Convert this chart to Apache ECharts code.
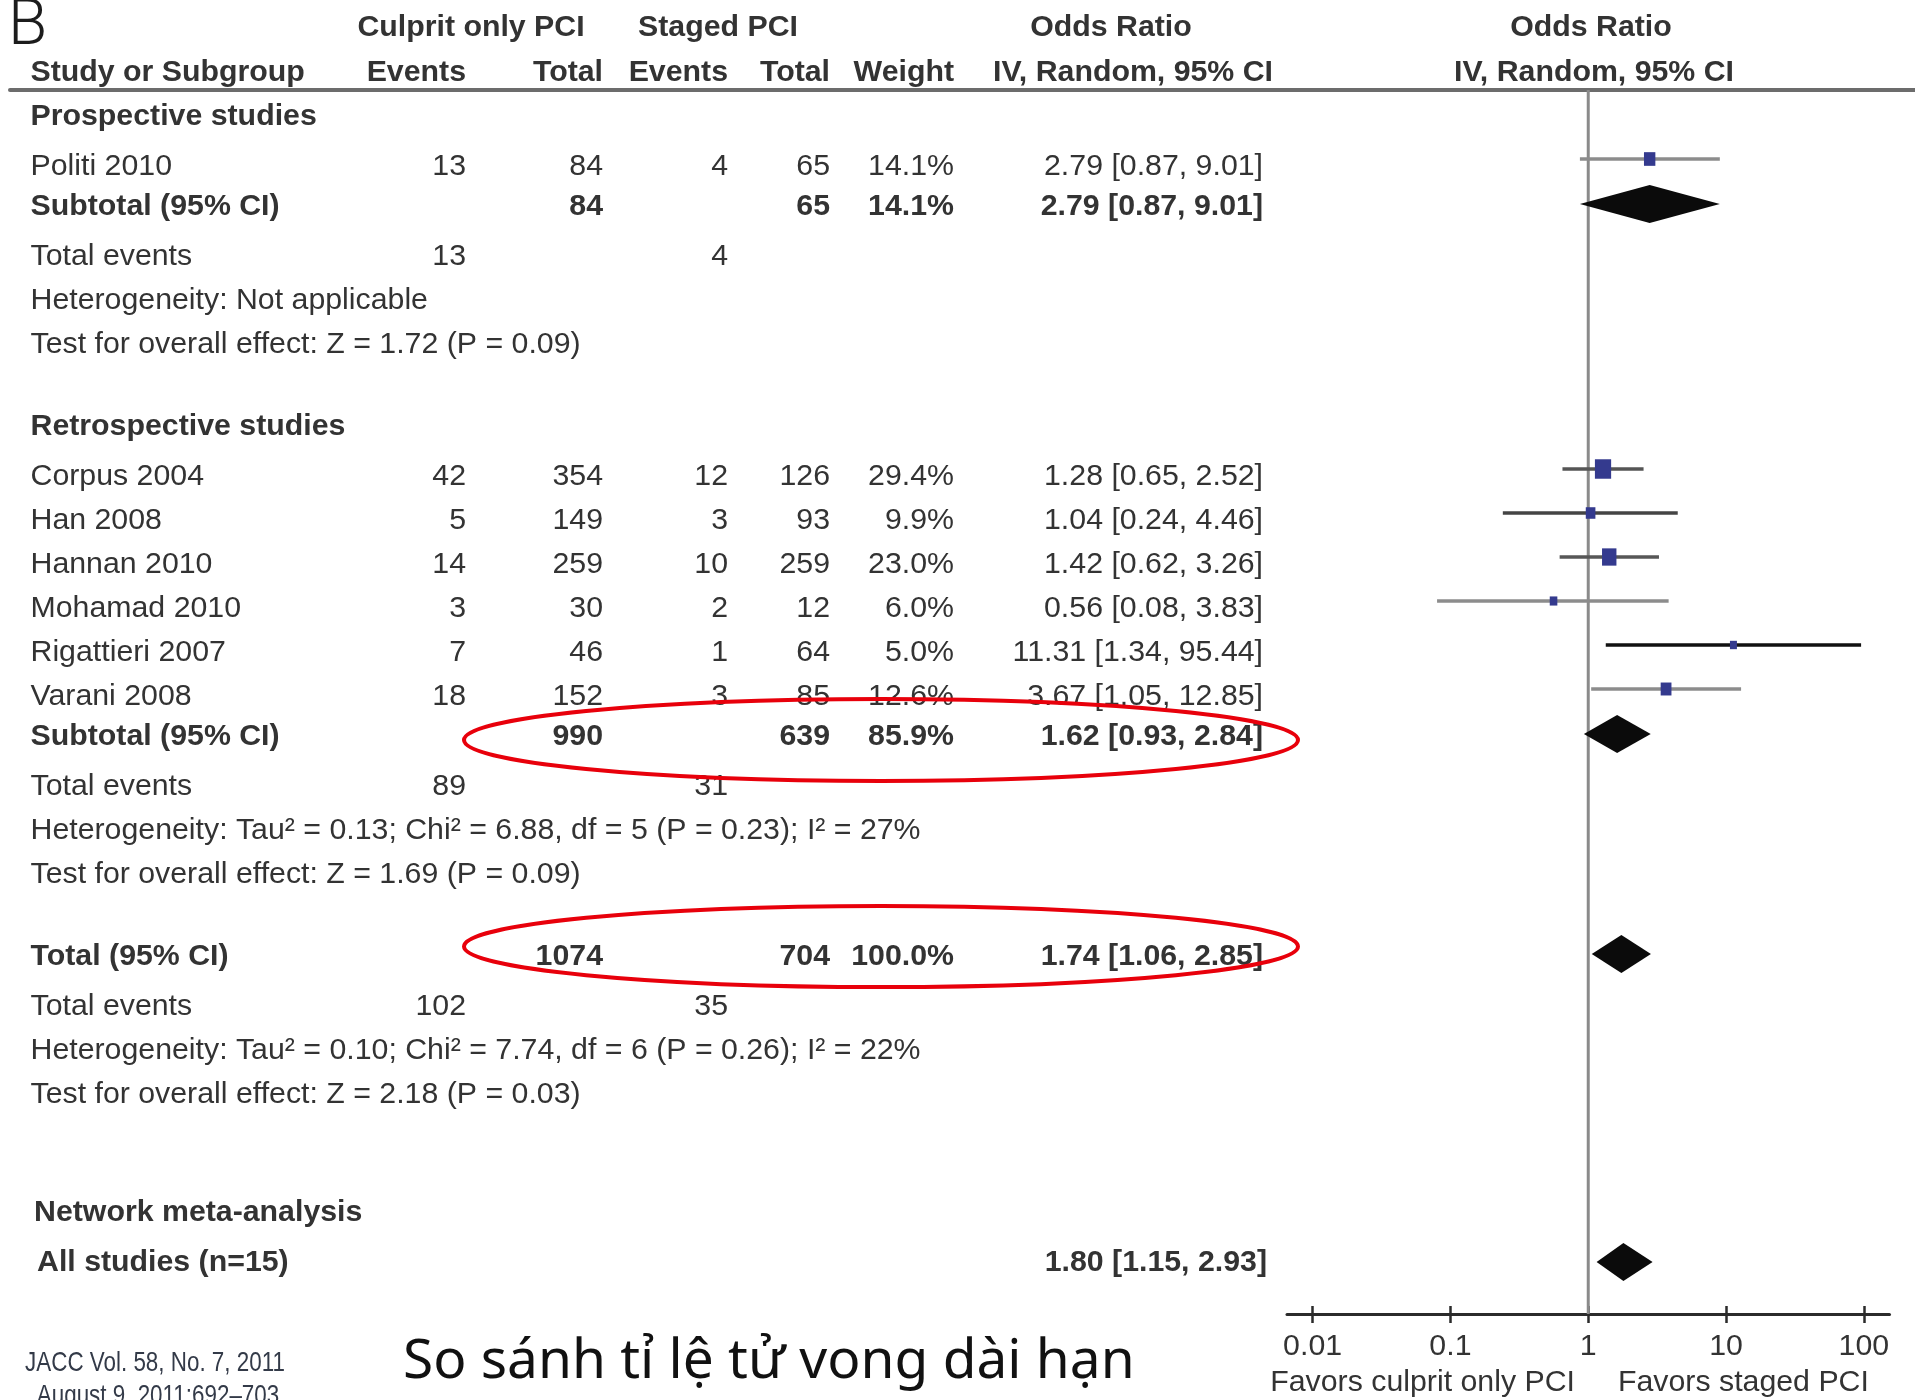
<!DOCTYPE html>
<html>
<head>
<meta charset="utf-8">
<title>Forest plot – culprit only vs staged PCI</title>
<script src="https://cdn.jsdelivr.net/npm/echarts@6/dist/echarts.min.js"></script>
<style>
  html, body { margin: 0; padding: 0; background: #ffffff; }
  #chart { width: 1915px; height: 1400px; }
</style>
</head>
<body>
<div id="chart"></div>
<script>
// ---------------- study data ----------------
const studyNames    = ['Politi 2010', 'Corpus 2004', 'Han 2008', 'Hannan 2010', 'Mohamad 2010', 'Rigattieri 2007', 'Varani 2008'];
const studyGroup    = [0, 1, 1, 1, 1, 1, 1];
const culpritEvents = [13, 42, 5, 14, 3, 7, 18];
const culpritTotal  = [84, 354, 149, 259, 30, 46, 152];
const stagedEvents  = [4, 12, 3, 10, 2, 1, 3];
const stagedTotal   = [65, 126, 93, 259, 12, 64, 85];
const studyWeight   = [14.1, 29.4, 9.9, 23.0, 6.0, 5.0, 12.6];
const studyOR       = [2.79, 1.28, 1.04, 1.42, 0.56, 11.31, 3.67];
const studyLow      = [0.87, 0.65, 0.24, 0.62, 0.08, 1.34, 1.05];
const studyHigh     = [9.01, 2.52, 4.46, 3.26, 3.83, 95.44, 12.85];

// ---------------- subgroup data ----------------
const groupNames         = ['Prospective studies', 'Retrospective studies'];
const groupCulpritTotal  = [84, 990];
const groupStagedTotal   = [65, 639];
const groupWeight        = [14.1, 85.9];
const groupOR            = [2.79, 1.62];
const groupLow           = [0.87, 0.93];
const groupHigh          = [9.01, 2.84];
const groupCulpritEvents = [13, 89];
const groupStagedEvents  = [4, 31];
const groupHeterogeneity = [
  'Heterogeneity: Not applicable',
  'Heterogeneity: Tau\u00b2 = 0.13; Chi\u00b2 = 6.88, df = 5 (P = 0.23); I\u00b2 = 27%'
];
const groupEffectTest = [
  'Test for overall effect: Z = 1.72 (P = 0.09)',
  'Test for overall effect: Z = 1.69 (P = 0.09)'
];

// ---------------- overall and network results ----------------
const overallLabel         = 'Total (95% CI)';
const overallTotals        = [1074, 704];          // culprit only, staged
const overallWeight        = [100.0];
const overallResult        = [1.74, 1.06, 2.85];   // OR, lower, upper
const overallEvents        = [102, 35];
const overallHeterogeneity = 'Heterogeneity: Tau\u00b2 = 0.10; Chi\u00b2 = 7.74, df = 6 (P = 0.26); I\u00b2 = 22%';
const overallEffectTest    = 'Test for overall effect: Z = 2.18 (P = 0.03)';

const networkHeading = 'Network meta-analysis';
const networkLabel   = 'All studies (n=15)';
const networkResult  = [1.80, 1.15, 2.93];         // OR, lower, upper

// ---------------- axis ----------------
const axisTicks      = [0.01, 0.1, 1, 10, 100];
const axisTickLabels = ['0.01', '0.1', '1', '10', '100'];
const favourLabels   = ['Favors culprit only PCI', 'Favors staged PCI'];

// ---------------- layout & style ----------------
const FONT_FAMILY = '"Liberation Sans", Arial, Helvetica, sans-serif';
const FONT_SIZE = 30.3;
const TEXT_COLOR = '#333333';
const TOP = 90;                     // header rule
const BOTTOM = 86;                  // space under the odds-ratio axis
const HEIGHT = 1400 - TOP - BOTTOM; // y axis runs in pixel units of the table body
const COL = { name: 30.5, cEv: 466, cTot: 603, sEv: 728, sTot: 830, wt: 954, ci: 1263 };
const GAP = { first: 50, row: 44, subtotal: 40, section: 82, network: 118 };
const STUDY_RAISE = 7;              // study bars sit a little above the text centre
const DIAMOND_RAISE = 2;
const DIAMOND_HALF = 19;
const AXIS_MIN = 0.00652, AXIS_MAX = 153.4;
const ciColors = ['#8c8c8c', '#555555', '#444444', '#575757', '#8c8c8c', '#111111', '#8c8c8c'];
const SQUARE_COLOR = '#343a8e';

const fmtCI = (r) => `${r[0].toFixed(2)} [${r[1].toFixed(2)}, ${r[2].toFixed(2)}]`;
const fmtPct = (w) => `${w.toFixed(1)}%`;

// ---------------- table rows ----------------
const cells = [];     // text cells: {x, pos, text, align, bold}
const ciBars = [];    // [low, high, pos, studyIndex]
const squares = [];   // [or, pos, weight]
const diamonds = [];  // [low, high, or, pos]
let pos = 26;

function cell(x, text, align, bold, at) {
  cells.push({ x, pos: at === undefined ? pos : at, text: String(text), align: align || 'left', bold: !!bold });
}

// header lines (above the rule)
const H1 = -63, H2 = -18;
cell(471, 'Culprit only PCI', 'center', true, H1);
cell(718, 'Staged PCI', 'center', true, H1);
cell(1111, 'Odds Ratio', 'center', true, H1);
cell(1591, 'Odds Ratio', 'center', true, H1);
cell(COL.name, 'Study or Subgroup', 'left', true, H2);
cell(COL.cEv, 'Events', 'right', true, H2);
cell(COL.cTot, 'Total', 'right', true, H2);
cell(COL.sEv, 'Events', 'right', true, H2);
cell(COL.sTot, 'Total', 'right', true, H2);
cell(COL.wt, 'Weight', 'right', true, H2);
cell(1133, 'IV, Random, 95% CI', 'center', true, H2);
cell(1594, 'IV, Random, 95% CI', 'center', true, H2);

groupNames.forEach((g, gi) => {
  if (gi > 0) pos += GAP.section;
  cell(COL.name, g, 'left', true);
  let first = true;
  studyNames.forEach((name, i) => {
    if (studyGroup[i] !== gi) return;
    pos += first ? GAP.first : GAP.row;
    first = false;
    cell(COL.name, name);
    cell(COL.cEv, culpritEvents[i], 'right');
    cell(COL.cTot, culpritTotal[i], 'right');
    cell(COL.sEv, stagedEvents[i], 'right');
    cell(COL.sTot, stagedTotal[i], 'right');
    cell(COL.wt, fmtPct(studyWeight[i]), 'right');
    cell(COL.ci, fmtCI([studyOR[i], studyLow[i], studyHigh[i]]), 'right');
    ciBars.push([studyLow[i], studyHigh[i], pos - STUDY_RAISE, i]);
    squares.push([studyOR[i], pos - STUDY_RAISE, studyWeight[i]]);
  });
  pos += GAP.subtotal;
  cell(COL.name, 'Subtotal (95% CI)', 'left', true);
  cell(COL.cTot, groupCulpritTotal[gi], 'right', true);
  cell(COL.sTot, groupStagedTotal[gi], 'right', true);
  cell(COL.wt, fmtPct(groupWeight[gi]), 'right', true);
  cell(COL.ci, fmtCI([groupOR[gi], groupLow[gi], groupHigh[gi]]), 'right', true);
  diamonds.push([groupLow[gi], groupHigh[gi], groupOR[gi], pos - DIAMOND_RAISE]);
  pos += GAP.first;
  cell(COL.name, 'Total events');
  cell(COL.cEv, groupCulpritEvents[gi], 'right');
  cell(COL.sEv, groupStagedEvents[gi], 'right');
  pos += GAP.row;
  cell(COL.name, groupHeterogeneity[gi]);
  pos += GAP.row;
  cell(COL.name, groupEffectTest[gi]);
});

pos += GAP.section;
cell(COL.name, overallLabel, 'left', true);
cell(COL.cTot, overallTotals[0], 'right', true);
cell(COL.sTot, overallTotals[1], 'right', true);
cell(COL.wt, fmtPct(overallWeight[0]), 'right', true);
cell(COL.ci, fmtCI(overallResult), 'right', true);
diamonds.push([overallResult[1], overallResult[2], overallResult[0], pos - DIAMOND_RAISE]);
pos += GAP.first;
cell(COL.name, 'Total events');
cell(COL.cEv, overallEvents[0], 'right');
cell(COL.sEv, overallEvents[1], 'right');
pos += GAP.row;
cell(COL.name, overallHeterogeneity);
pos += GAP.row;
cell(COL.name, overallEffectTest);

pos += GAP.network;
cell(34, networkHeading, 'left', true);
pos += GAP.first;
cell(37, networkLabel, 'left', true);
cell(COL.ci + 4, fmtCI(networkResult), 'right', true);
diamonds.push([networkResult[1], networkResult[2], networkResult[0], pos]);

// ---------------- chart ----------------
const chart = echarts.init(document.getElementById('chart'), null, { renderer: 'canvas' });

const logAxisBase = {
  gridIndex: 1, type: 'log', logBase: 10, min: AXIS_MIN, max: AXIS_MAX,
  position: 'bottom', splitLine: { show: false }, axisPointer: { show: false }
};

const option = {
  animation: false,
  backgroundColor: '#ffffff',
  grid: [
    { left: 10, right: 0, top: TOP, bottom: BOTTOM, containLabel: false, outerBoundsMode: 'none' },
    { left: 1287, right: 25.5, top: TOP, bottom: BOTTOM, containLabel: false, outerBoundsMode: 'none' }
  ],
  xAxis: [
    {
      gridIndex: 0, type: 'value', min: 10, max: 1915, position: 'top',
      axisLine: { show: true, onZero: false, lineStyle: { color: '#6c6c6c', width: 4 } },
      axisTick: { show: false }, axisLabel: { show: false }, splitLine: { show: false }
    },
    Object.assign({}, logAxisBase, {
      axisLine: { show: true, onZero: false, lineStyle: { color: '#2b2b2b', width: 3 } },
      axisTick: { show: true, customValues: axisTicks, length: 9, lineStyle: { color: '#2b2b2b', width: 2.5 } },
      axisLabel: {
        show: true, customValues: axisTicks, margin: 18,
        fontSize: FONT_SIZE, fontFamily: FONT_FAMILY, color: TEXT_COLOR,
        formatter: (v) => {
          const k = axisTicks.findIndex(t => Math.abs(t - v) / t < 1e-6);
          return k >= 0 ? axisTickLabels[k] : '';
        }
      }
    }),
    Object.assign({}, logAxisBase, {
      axisLine: { show: false, onZero: false },
      axisTick: { show: true, inside: true, customValues: axisTicks, length: 8, lineStyle: { color: '#2b2b2b', width: 2.5 } },
      axisLabel: { show: false }
    })
  ],
  yAxis: [
    { gridIndex: 0, type: 'value', min: 0, max: HEIGHT, inverse: true, show: false },
    { gridIndex: 1, type: 'value', min: 0, max: HEIGHT, inverse: true, show: false }
  ],
  series: [
    // table text
    {
      type: 'custom', xAxisIndex: 0, yAxisIndex: 0, clip: false, silent: true, z: 5,
      data: cells.map((c, i) => [c.x, c.pos, i]),
      encode: { x: 0, y: 1 },
      renderItem: (params, api) => {
        const c = cells[api.value(2)];
        const p = api.coord([api.value(0), api.value(1)]);
        return {
          type: 'text', x: p[0], y: p[1] + 1,
          style: {
            text: c.text, fill: TEXT_COLOR,
            font: `${c.bold ? 'bold ' : ''}${FONT_SIZE}px ${FONT_FAMILY}`,
            align: c.align, verticalAlign: 'middle'
          }
        };
      }
    },
    // line of no effect (OR = 1)
    {
      type: 'custom', xAxisIndex: 1, yAxisIndex: 1, clip: false, silent: true, z: 1,
      data: [[1, 0, HEIGHT]],
      encode: { x: 0, y: [1, 2] },
      renderItem: (params, api) => {
        const a = api.coord([api.value(0), api.value(1)]);
        const b = api.coord([api.value(0), api.value(2)]);
        return { type: 'line', shape: { x1: a[0], y1: a[1], x2: b[0], y2: b[1] }, style: { stroke: '#8a8a8a', lineWidth: 3 } };
      }
    },
    // study confidence intervals
    {
      type: 'custom', xAxisIndex: 1, yAxisIndex: 1, clip: false, silent: true, z: 2,
      data: ciBars,
      encode: { x: [0, 1], y: 2 },
      renderItem: (params, api) => {
        const a = api.coord([api.value(0), api.value(2)]);
        const b = api.coord([api.value(1), api.value(2)]);
        return { type: 'line', shape: { x1: a[0], y1: a[1], x2: b[0], y2: b[1] }, style: { stroke: ciColors[api.value(3)], lineWidth: 3.5 } };
      }
    },
    // study point estimates, sized by weight
    {
      type: 'scatter', xAxisIndex: 1, yAxisIndex: 1, silent: true, z: 3,
      symbol: 'rect',
      symbolSize: (v) => { const w = 2.9 * Math.sqrt(v[2]) + 0.5; return [w, w * 1.2]; },
      itemStyle: { color: SQUARE_COLOR, opacity: 1 },
      data: squares
    },
    // pooled estimates
    {
      type: 'custom', xAxisIndex: 1, yAxisIndex: 1, clip: false, silent: true, z: 3,
      data: diamonds,
      encode: { x: [0, 1, 2], y: 3 },
      renderItem: (params, api) => {
        const y = api.value(3);
        const l = api.coord([api.value(0), y]);
        const r = api.coord([api.value(1), y]);
        const m = api.coord([api.value(2), y]);
        return {
          type: 'polygon',
          shape: { points: [[l[0], l[1]], [m[0], m[1] - DIAMOND_HALF], [r[0], r[1]], [m[0], m[1] + DIAMOND_HALF]] },
          style: { fill: '#0b0b0b', stroke: null }
        };
      }
    }
  ],
  graphic: [
    { type: 'text', x: 8, y: 28, style: { text: 'B', font: '300 64px Roboto, "Liberation Sans", sans-serif', fill: '#1c1c1c', verticalAlign: 'middle' } },
    { type: 'ellipse', z: 100, shape: { cx: 881, cy: 740, rx: 417, ry: 41 }, style: { fill: null, stroke: '#e8000b', lineWidth: 4 } },
    { type: 'ellipse', z: 100, shape: { cx: 881, cy: 946.5, rx: 417, ry: 40.5 }, style: { fill: null, stroke: '#e8000b', lineWidth: 4 } },
    { type: 'text', x: 403, y: 1362, style: { text: 'So sánh tỉ lệ tử vong dài hạn', font: '55px "Noto Sans", "Open Sans", sans-serif', fill: '#111111', verticalAlign: 'middle' } },
    { type: 'text', x: 155, y: 1363, scaleX: 0.8, style: { text: 'JACC Vol. 58, No. 7, 2011', font: `28px ${FONT_FAMILY}`, fill: '#333a48', align: 'center', verticalAlign: 'middle' } },
    { type: 'text', x: 158, y: 1396, scaleX: 0.8, style: { text: 'August 9, 2011:692\u2013703', font: `28px ${FONT_FAMILY}`, fill: '#333a48', align: 'center', verticalAlign: 'middle' } },
    { type: 'text', x: 1575, y: 1383, style: { text: favourLabels[0], font: `${FONT_SIZE}px ${FONT_FAMILY}`, fill: TEXT_COLOR, align: 'right', verticalAlign: 'middle' } },
    { type: 'text', x: 1618, y: 1383, style: { text: favourLabels[1], font: `${FONT_SIZE}px ${FONT_FAMILY}`, fill: TEXT_COLOR, align: 'left', verticalAlign: 'middle' } }
  ]
};

chart.setOption(option);
</script>
</body>
</html>
